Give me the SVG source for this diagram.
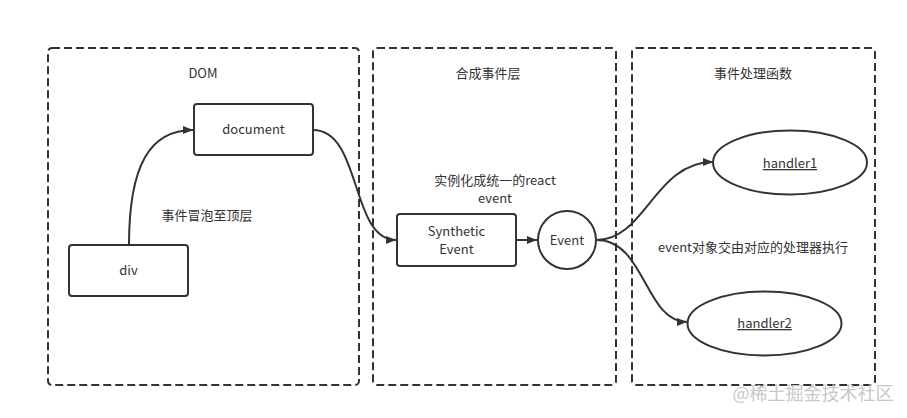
<svg xmlns="http://www.w3.org/2000/svg" width="907" height="418" viewBox="0 0 907 418">
<style>
.bg{fill:#fff}
.cont{fill:none;stroke:#333;stroke-width:2;stroke-dasharray:8 4}
.box{fill:#fff;stroke:#333;stroke-width:2}
.t{font-family:"Noto Sans CJK SC","Open Sans",sans-serif;font-size:13px;fill:#333;text-anchor:middle}
.u{text-decoration:underline}
.edge{fill:none;stroke:#333;stroke-width:2}
.wm{font-family:"Noto Sans CJK SC",sans-serif;font-size:18px;fill:#c8c8c8;text-anchor:middle}
</style>
<defs>
<marker id="arr" viewBox="0 0 10 10" refX="10" refY="5" markerWidth="10" markerHeight="10" markerUnits="userSpaceOnUse" orient="auto">
<path d="M0 1 L10 5 L0 9 Z" fill="#333"/>
</marker>
</defs>
<rect class="bg" width="907" height="418"/>
<g id="dom-layer">
<rect class="cont" x="48" y="48" width="311" height="337" rx="4"/>
<text class="t" x="203" y="78">DOM</text>
</g>
<g id="synthetic-layer">
<rect class="cont" x="373" y="48" width="243" height="337" rx="4"/>
<text class="t" x="488" y="78">合成事件层</text>
</g>
<g id="handler-layer">
<rect class="cont" x="632" y="48" width="243" height="337" rx="4"/>
<text class="t" x="753" y="78">事件处理函数</text>
</g>
<g id="document">
<rect class="box" x="194" y="104" width="119" height="51" rx="3"/>
<text class="t" x="253.5" y="134">document</text>
</g>
<g id="div">
<rect class="box" x="69" y="245" width="119" height="51" rx="3"/>
<text class="t" x="128.5" y="275">div</text>
</g>
<g id="synthetic-event">
<rect class="box" x="397" y="214" width="119" height="52" rx="3"/>
<text class="t" x="456.5" y="236">Synthetic</text>
<text class="t" x="456.5" y="254">Event</text>
</g>
<g id="event">
<circle class="box" cx="567" cy="240" r="29"/>
<text class="t" x="567" y="245">Event</text>
</g>
<g id="handler1">
<ellipse class="box" cx="790" cy="162.5" rx="77" ry="32"/>
<text class="t u" x="790" y="168">handler1</text>
</g>
<g id="handler2">
<ellipse class="box" cx="764.5" cy="323.5" rx="77" ry="32"/>
<text class="t u" x="764.5" y="328">handler2</text>
</g>
<g id="labels">
<text class="t" x="207" y="220">事件冒泡至顶层</text>
<text class="t" x="495" y="185">实例化成统一的react</text>
<text class="t" x="495" y="203">event</text>
<text class="t" x="753" y="252">event对象交由对应的处理器执行</text>
</g>
<g id="connectors">
<path class="edge" marker-end="url(#arr)" d="M129 245 C129 165 150 130 193 130"/>
<path class="edge" marker-end="url(#arr)" d="M313 130 C362 130 350 240 396 240"/>
<path class="edge" marker-end="url(#arr)" d="M516 240 L537 240"/>
<path class="edge" marker-end="url(#arr)" d="M597 240 C645 240 655 162 713 162"/>
<path class="edge" marker-end="url(#arr)" d="M597 240 C645 240 645 322 687 322"/>
</g>
<text class="wm" x="813" y="400">@稀土掘金技术社区</text>
</svg>
